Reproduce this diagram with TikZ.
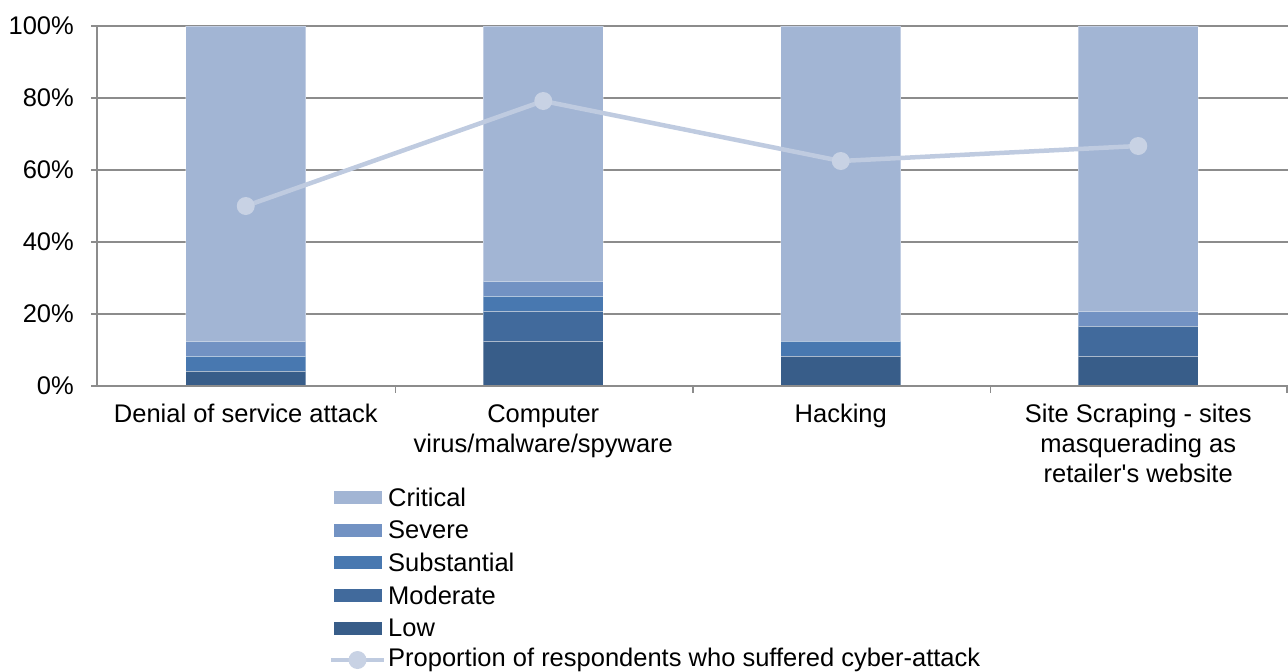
\documentclass[tikz,border=0pt]{standalone}
\usepackage{fontspec}
\setmainfont{Liberation Sans}
\definecolor{crit}{HTML}{A2B5D4}
\definecolor{sev}{HTML}{7292C3}
\definecolor{subs}{HTML}{4878B0}
\definecolor{mode}{HTML}{416A9C}
\definecolor{lowc}{HTML}{385D89}
\definecolor{gridc}{HTML}{8C8C8C}
\definecolor{linec}{HTML}{BFCBE0}
\definecolor{markc}{HTML}{C8D2E4}
\newcommand\barseg[4]{\fill[#4] ({#1-60},{386-15*#2}) rectangle ({#1+60},{386-15*#3});
  \draw[white, draw opacity=0.35, line width=1pt] ({#1-60},{386-15*#2}) rectangle ({#1+60},{386-15*#3});}
\begin{document}
\begin{tikzpicture}[x=1pt,y=-1pt,
  lbl/.style={font=\fontsize{25.5}{30}\selectfont, inner sep=0pt},
  grid line/.style={gridc, line width=1.6pt},
  legbox/.style={minimum width=48pt, minimum height=13pt, inner sep=0pt},
  mark dot/.style={circle, fill=markc, minimum size=18pt, inner sep=0pt},
  prop line/.style={linec, line width=4.5pt}]
\useasboundingbox (0,0) rectangle (1288,672);
% gridlines
\foreach \y in {26,98,170,242,314} {\draw[grid line] (91,\y) -- (1288,\y);}
% bars
\barseg{245.75}{0}{1}{lowc}
\barseg{245.75}{1}{2}{subs}
\barseg{245.75}{2}{3}{sev}
\barseg{245.75}{3}{24}{crit}
\barseg{543.25}{0}{3}{lowc}
\barseg{543.25}{3}{5}{mode}
\barseg{543.25}{5}{6}{subs}
\barseg{543.25}{6}{7}{sev}
\barseg{543.25}{7}{24}{crit}
\barseg{840.75}{0}{2}{lowc}
\barseg{840.75}{2}{3}{subs}
\barseg{840.75}{3}{24}{crit}
\barseg{1138.25}{0}{2}{lowc}
\barseg{1138.25}{2}{4}{mode}
\barseg{1138.25}{4}{5}{sev}
\barseg{1138.25}{5}{24}{crit}
% axes
\draw[grid line] (97,26) -- (97,386);
\draw[grid line] (91,386) -- (1288,386);
\draw[grid line] (91,26) -- (97,26);
\foreach \x in {395.5,693,990.5,1287} {\draw[grid line] (\x,386) -- (\x,393);}
% y labels
\node[lbl, anchor=east] (y0) at (74,386) {0\%};
\node[lbl, anchor=east] (y20) at (74,314) {20\%};
\node[lbl, anchor=east] (y40) at (74,242) {40\%};
\node[lbl, anchor=east] (y60) at (74,170) {60\%};
\node[lbl, anchor=east] (y80) at (74,98) {80\%};
\node[lbl, anchor=east] (y100) at (74,26) {100\%};
% category labels
\node[lbl, anchor=north, align=center] (c1) at (245.75,404) {Denial of service attack};
\node[lbl, anchor=north, align=center] (c2) at (543.25,404) {Computer\\virus/malware/spyware};
\node[lbl, anchor=north, align=center] (c3) at (840.75,404) {Hacking};
\node[lbl, anchor=north, align=center] (c4) at (1138.25,404) {Site Scraping - sites\\masquerading as\\retailer\textquotesingle s website};
% proportion line
\coordinate (p1) at (245.75,206);
\coordinate (p2) at (543.25,101);
\coordinate (p3) at (840.75,161);
\coordinate (p4) at (1138.25,146);
\draw[prop line] (p1) -- (p2) -- (p3) -- (p4);
\node[mark dot] (m1) at (p1) {};
\node[mark dot] (m2) at (p2) {};
\node[mark dot] (m3) at (p3) {};
\node[mark dot] (m4) at (p4) {};
% legend
\node[legbox, fill=crit] (l1) at (358,497) {};
\node[lbl, anchor=west] (t1) at (388,497) {Critical};
\node[legbox, fill=sev] (l2) at (358,530) {};
\node[lbl, anchor=west] (t2) at (388,530) {Severe};
\node[legbox, fill=subs] (l3) at (358,562) {};
\node[lbl, anchor=west] (t3) at (388,562) {Substantial};
\node[legbox, fill=mode] (l4) at (358,595) {};
\node[lbl, anchor=west] (t4) at (388,595) {Moderate};
\node[legbox, fill=lowc] (l5) at (358,628) {};
\node[lbl, anchor=west] (t5) at (388,628) {Low};
\coordinate (la) at (331,660);
\coordinate (lb) at (384,660);
\draw[prop line] (la) -- (lb);
\node[mark dot] (lm) at (357.5,660) {};
\node[lbl, anchor=west] (t6) at (388,660) {Proportion of respondents who suffered cyber-attack};
\end{tikzpicture}
\end{document}
